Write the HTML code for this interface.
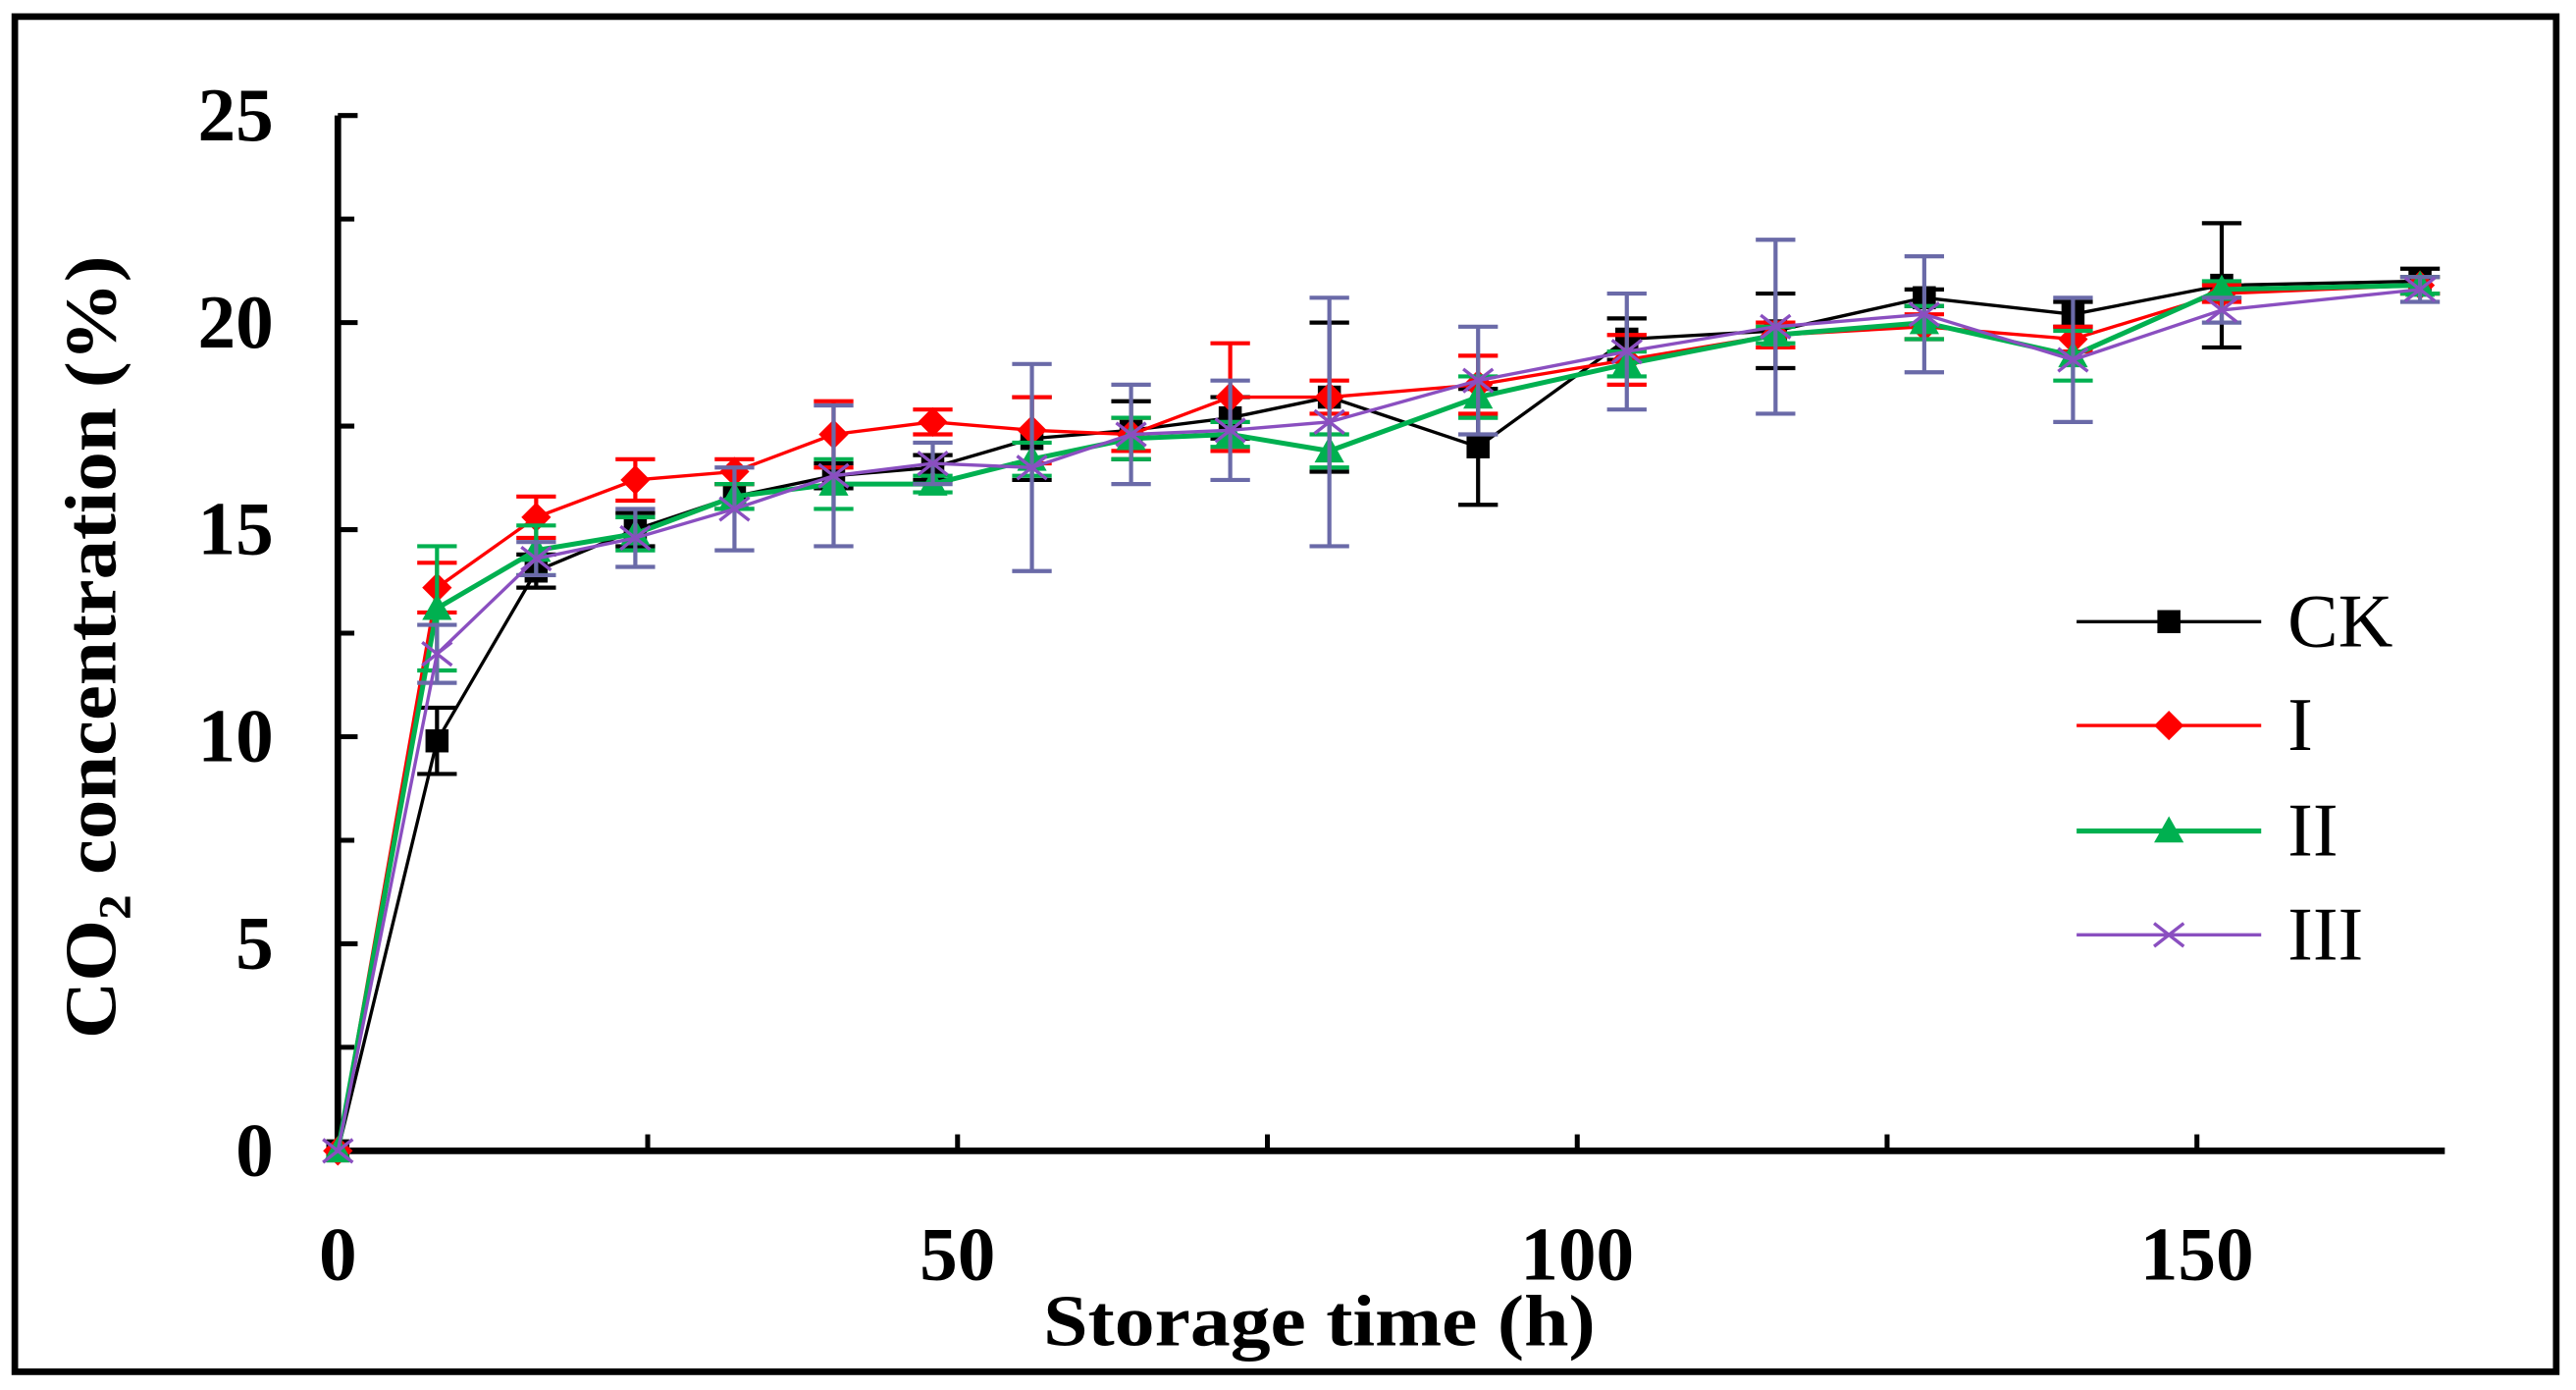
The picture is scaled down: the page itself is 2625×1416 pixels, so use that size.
<!DOCTYPE html>
<html><head><meta charset="utf-8"><style>
html,body{margin:0;padding:0;background:#fff;}
svg{display:block;}
text{font-family:"Liberation Serif",serif;}
</style></head><body>
<svg id="chart" width="2625" height="1416" viewBox="0 0 1563 843" xmlns="http://www.w3.org/2000/svg">
<rect x="9" y="10" width="1542" height="822" fill="#fff" stroke="#000" stroke-width="4"/>
<g id="axes"></g>
<g id="series"></g>
<g id="legend"></g>
<text x="633" y="816" textLength="335" lengthAdjust="spacingAndGlyphs" font-size="44" font-weight="bold">Storage time (h)</text>
<text transform="translate(70,630) rotate(-90)" textLength="475" lengthAdjust="spacingAndGlyphs" font-size="44" font-weight="bold">CO<tspan font-size="28" dy="9">2</tspan><tspan dy="-9"> concentration (%)</tspan></text>
</svg>
<script>
const times = [0,8,16,24,32,40,48,56,64,72,80,92,104,116,128,140,152,168];
const seriesNames = ["CK","I","II","III"];
const ckValues = [0,9.9,14.0,15.0,15.8,16.3,16.5,17.2,17.4,17.7,18.2,17.0,19.6,19.8,20.6,20.2,20.9,21.0];
const iValues = [0,13.6,15.3,16.2,16.4,17.3,17.6,17.4,17.3,18.2,18.2,18.5,19.1,19.7,19.9,19.6,20.7,20.9];
const iiValues = [0,13.1,14.5,14.9,15.8,16.1,16.1,16.7,17.2,17.3,16.9,18.2,19.0,19.7,20.0,19.2,20.8,20.9];
const iiiValues = [0,12.0,14.3,14.8,15.5,16.3,16.6,16.5,17.3,17.4,17.6,18.6,19.3,19.9,20.2,19.1,20.3,20.8];
const ckErr = [0,0.8,0.4,0.4,0.3,0.3,0.3,1.0,0.7,0.5,1.8,1.4,0.5,0.9,0.2,0.3,1.5,0.3];
const iErr = [0,0.6,0.5,0.5,0.3,0.8,0.3,0.8,0.4,1.3,0.4,0.7,0.6,0.3,0.3,0.3,0.2,0.2];
const iiErr = [0,1.5,0.6,0.4,0.3,0.6,0.2,0.4,0.5,0.3,0.4,0.5,0.3,0.2,0.4,0.6,0.2,0.2];
const iiiErr = [0,0.7,0.4,0.7,1.0,1.7,0.5,2.5,1.2,1.2,3.0,1.3,1.4,2.1,1.4,1.5,0.3,0.3];
const xTickLabels = [0,50,100,150];
const yTickLabels = [0,5,10,15,20,25];

const NS="http://www.w3.org/2000/svg";
const X0=205, XS=7.52, Y0=698, YS=25.12;
function xs(v){return X0+v*XS;}
function ys(v){return Y0-v*YS;}
function mk(tag,attrs,parent){const e=document.createElementNS(NS,tag);for(const k in attrs)e.setAttribute(k,attrs[k]);parent.appendChild(e);return e;}

const axes=document.getElementById('axes');
let l=mk('line',{x1:xs(0),y1:ys(0),x2:xs(170),y2:ys(0),stroke:'#000','stroke-width':4},axes);


l=mk('line',{x1:xs(0),y1:ys(0),x2:xs(0),y2:ys(25),stroke:'#000','stroke-width':4},axes);


for(let t=25;t<=150;t+=25){
  const tk=mk('line',{x1:xs(t),y1:ys(0),x2:xs(t),y2:ys(0)-10,stroke:'#000','stroke-width':3},axes);
  
  
}
for(let v=2.5;v<=25;v+=2.5){
  const major=Math.abs(v%5)<1e-6;
  const tk=mk('line',{x1:xs(0),y1:ys(v),x2:xs(0)+(major?12:10),y2:ys(v),stroke:'#000','stroke-width':3},axes);
  
  
}
xTickLabels.forEach(t=>{
  const e=mk('text',{x:xs(t),y:776,'text-anchor':'middle','font-size':46,'font-weight':'bold'},axes);
  e.textContent=t;
  
  
});
yTickLabels.forEach(v=>{
  const e=mk('text',{x:166,y:ys(v)+15,'text-anchor':'end','font-size':46,'font-weight':'bold'},axes);
  e.textContent=v;
  
  
});

const seriesData=[ckValues,iValues,iiValues,iiiValues];
const seriesErr=[ckErr,iErr,iiErr,iiiErr];
const colors=['#000000','#ff0000','#00b050','#8a4fc0'];
const errColors=['#000000','#ff0000','#00b050','#6a6aa8'];
const lineW=[2,2,3,2];
const sg=document.getElementById('series');

function marker(i,cx,cy,g){
  let m;
  if(i===0) m=mk('rect',{x:cx-7,y:cy-7,width:14,height:14,fill:colors[0]},g);
  else if(i===1) m=mk('polygon',{points:`${cx},${cy-9} ${cx+9},${cy} ${cx},${cy+9} ${cx-9},${cy}`,fill:colors[1]},g);
  else if(i===2) m=mk('polygon',{points:`${cx},${cy-9} ${cx+9},${cy+7} ${cx-9},${cy+7}`,fill:colors[2]},g);
  else m=mk('path',{d:`M${cx-9},${cy-7}L${cx+9},${cy+7}M${cx-9},${cy+7}L${cx+9},${cy-7}`,stroke:colors[3],'stroke-width':2,fill:'none'},g);
  return m;
}

seriesData.forEach((vals,i)=>{
  const g=mk('g',{},sg);
  
  
  vals.forEach((v,j)=>{
    const e=seriesErr[i][j]; if(e<=0) return;
    const eb=mk('path',{d:`M${xs(times[j])},${ys(v+e)}V${ys(v-e)}M${xs(times[j])-12},${ys(v+e)}h24M${xs(times[j])-12},${ys(v-e)}h24`,stroke:errColors[i],'stroke-width':2.5,fill:'none'},g);
    
    
  });
  const pl=mk('polyline',{points:vals.map((v,j)=>xs(times[j])+','+ys(v)).join(' '),fill:'none',stroke:colors[i],'stroke-width':lineW[i]},g);
  
  
  vals.forEach((v,j)=>{
    const m=marker(i,xs(times[j]),ys(v),g);
    
    
  });
});

const lg=document.getElementById('legend');
const rowY=[377,440,504,567];
seriesNames.forEach((n,i)=>{
  const g=mk('g',{},lg);
  
  
  mk('line',{x1:1260,y1:rowY[i],x2:1372,y2:rowY[i],stroke:colors[i],'stroke-width':lineW[i]},g);
  marker(i,1316,rowY[i],g);
  const t=mk('text',{x:1388,y:rowY[i]+15,'font-size':46},g);
  t.textContent=n;
});
</script>
</body></html>
